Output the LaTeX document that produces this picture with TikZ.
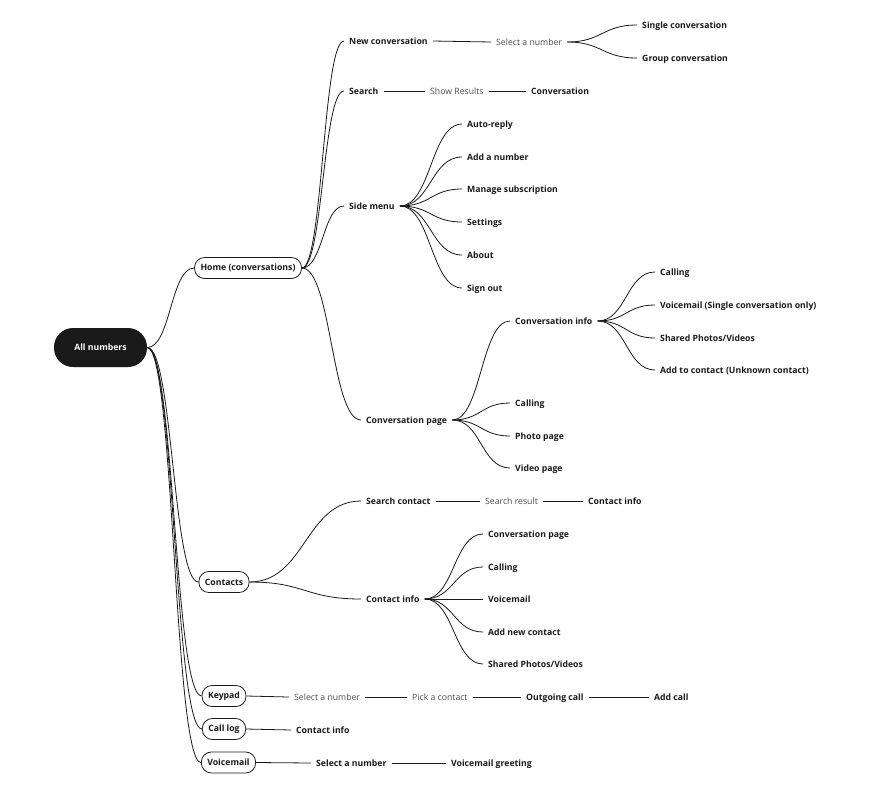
\documentclass[tikz,border=0pt]{standalone}
\usepackage{fontspec}
\setmainfont{Open Sans}
\usetikzlibrary{calc}
\definecolor{ink}{HTML}{1A1A1A}
\definecolor{soft}{HTML}{4D4D4D}
\newcommand\mmfont{\fontsize{8.7}{10.5}\selectfont}
\tikzset{
  mm/.style={to path={let \p1=(\tikztostart), \p2=(\tikztotarget) in
     .. controls ({(\x1+\x2)/2},\y1) and ({(\x1+\x2)/2},\y2) .. (\tikztotarget)}},
  wire/.style={draw=ink, line width=0.8pt},
  rootbox/.style={fill=ink, text=white, rounded corners=19pt, minimum width=93pt,
     minimum height=39pt, font=\mmfont\bfseries, inner sep=0pt},
  pill/.style={draw=ink, line width=0.8pt, rounded corners=10pt, minimum height=21pt,
     inner xsep=6pt, inner ysep=0pt, text=ink, font=\mmfont\bfseries},
  item/.style={anchor=west, inner xsep=5pt, inner ysep=1pt, text height=7.5pt, text depth=1.5pt,
     yshift=-1pt, text=ink, font=\mmfont\bfseries},
  stage/.style={anchor=west, inner xsep=5pt, inner ysep=1pt, text height=7.5pt, text depth=1.5pt,
     yshift=-1pt, text=soft, font=\mmfont},
}
\begin{document}
\begin{tikzpicture}[x=1pt, y=-1pt]
\useasboundingbox (0,0) rectangle (873,788);
% main nodes
\node[rootbox] (root) at (100.5,347.5) {All numbers};
\node[pill] (home) at (248,268) {Home (conversations)};
\node[pill] (contacts) at (224,582) {Contacts};
\node[pill] (keypad) at (224,696) {Keypad};
\node[pill] (calllog) at (224,729) {Call log};
\node[pill] (voicemail) at (228.5,762.5) {Voicemail};
% home branch
\node[item] (nc) at (344,40) {New conversation};
\node[stage] (sel1) at (491,41) {Select a number};
\node[item] (single) at (637,24) {Single conversation};
\node[item] (group) at (637,57) {Group conversation};
\node[item] (search) at (344,90) {Search};
\node[stage] (showres) at (425,90) {Show Results};
\node[item] (conv) at (526,90) {Conversation};
\node[item] (side) at (344,205) {Side menu};
\node[item] (auto) at (462,123) {Auto-reply};
\node[item] (addnum) at (462,156) {Add a number};
\node[item] (manage) at (462,188) {Manage subscription};
\node[item] (settings) at (462,221) {Settings};
\node[item] (about) at (462,254) {About};
\node[item] (signout) at (462,287) {Sign out};
\node[item] (cpage) at (361,419) {Conversation page};
\node[item] (cinfo) at (510,320) {Conversation info};
\node[item] (call1) at (510,402) {Calling};
\node[item] (photo) at (510,435) {Photo page};
\node[item] (video) at (510,467) {Video page};
\node[item] (cicall) at (655,271) {Calling};
\node[item] (civm) at (655,304) {Voicemail (Single conversation only)};
\node[item] (cishared) at (655,337) {Shared Photos/Videos};
\node[item] (ciadd) at (655,369) {Add to contact (Unknown contact)};
% contacts branch
\node[item] (scontact) at (361,500) {Search contact};
\node[stage] (sresult) at (480,500) {Search result};
\node[item] (scinfo) at (583,500) {Contact info};
\node[item] (coninfo) at (361,598) {Contact info};
\node[item] (coconv) at (483,533) {Conversation page};
\node[item] (cocall) at (483,566) {Calling};
\node[item] (covm) at (483,598) {Voicemail};
\node[item] (coadd) at (483,631) {Add new contact};
\node[item] (coshared) at (483,663) {Shared Photos/Videos};
% keypad, call log, voicemail
\node[stage] (kpsel) at (289,696) {Select a number};
\node[stage] (kppick) at (407,696) {Pick a contact};
\node[item] (kpout) at (521,696) {Outgoing call};
\node[item] (kpadd) at (649,696) {Add call};
\node[item] (clci) at (291,729) {Contact info};
\node[item] (vmsel) at (311,762) {Select a number};
\node[item] (vmgreet) at (446,762) {Voicemail greeting};
% connectors
\begin{scope}[every path/.style={wire}]
\foreach \c in {home,contacts,keypad,calllog,voicemail}
  \draw (root.east) to[mm] (\c.west);
\foreach \c in {nc,search,side,cpage}
  \draw (home.east) to[mm] (\c.west);
\draw (nc.east) -- (sel1.west);
\draw (sel1.east) to[mm] (single.west);
\draw (sel1.east) to[mm] (group.west);
\draw (search.east) -- (showres.west);
\draw (showres.east) -- (conv.west);
\foreach \c in {auto,addnum,manage,settings,about,signout}
  \draw (side.east) to[mm] (\c.west);
\foreach \c in {cinfo,call1,photo,video}
  \draw (cpage.east) to[mm] (\c.west);
\foreach \c in {cicall,civm,cishared,ciadd}
  \draw (cinfo.east) to[mm] (\c.west);
\foreach \c in {scontact,coninfo}
  \draw (contacts.east) to[mm] (\c.west);
\draw (scontact.east) -- (sresult.west);
\draw (sresult.east) -- (scinfo.west);
\foreach \c in {coconv,cocall,covm,coadd,coshared}
  \draw (coninfo.east) to[mm] (\c.west);
\draw (keypad.east) -- (kpsel.west);
\draw (kpsel.east) -- (kppick.west);
\draw (kppick.east) -- (kpout.west);
\draw (kpout.east) -- (kpadd.west);
\draw (calllog.east) -- (clci.west);
\draw (voicemail.east) -- (vmsel.west);
\draw (vmsel.east) -- (vmgreet.west);
\end{scope}
\end{tikzpicture}
\end{document}
